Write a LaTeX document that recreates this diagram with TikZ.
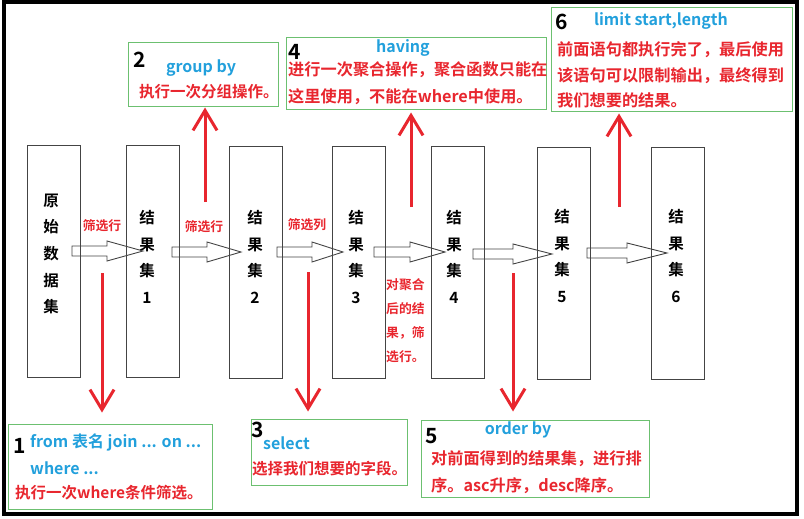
\documentclass[tikz,border=0pt]{standalone}
\usepackage{fontspec}
\setmainfont{Noto Sans CJK SC}[BoldFont={Noto Sans CJK SC Bold}]
\usetikzlibrary{arrows.meta}
\definecolor{tred}{HTML}{E8262E}
\definecolor{tblue}{HTML}{22A0DC}
\definecolor{tgreen}{HTML}{6CC070}
\definecolor{tgray}{HTML}{444444}
\newcommand\blockarrow[4]{%
  \draw[barrow] (#1,#4-5) -- (#2,#4-5) -- (#2,#4-10) -- (#3,#4) -- (#2,#4+10) -- (#2,#4+5) -- (#1,#4+5) -- cycle;}
\begin{document}
\begin{tikzpicture}[x=1pt,y=-1pt,
  setbox/.style={draw=tgray,line width=1pt,minimum width=53pt,minimum height=232pt,inner sep=0pt},
  settext/.style={align=center,inner sep=0pt,font=\fontsize{15.5}{26.7}\selectfont\bfseries},
  gbox/.style={draw=tgreen,line width=1pt,inner sep=0pt},
  num/.style={inner sep=0pt,font=\fontsize{21}{21}\selectfont\bfseries},
  bluet/.style={inner sep=0pt,text=tblue,font=\fontsize{16}{16}\selectfont\bfseries},
  redt/.style={inner sep=0pt,text=tred,anchor=west,font=\fontsize{15.5}{16}\selectfont\bfseries},
  redtl/.style={redt,font=\fontsize{16.2}{16}\selectfont\bfseries},
  lbl/.style={inner sep=0pt,text=tred,font=\fontsize{12.8}{24}\selectfont\bfseries},
  barrow/.style={draw=tgray,line width=0.9pt,line join=miter},
  redarrow/.style={draw=tred,line width=3pt,-{Straight Barb[length=20pt,width=24pt,line width=3pt]}}
]
\useasboundingbox (0,0) rectangle (804,519);
\draw[line width=3.5pt,black] (4,2) rectangle (797,514);

% result-set boxes
\node[setbox] (b0) at (54,261) {};
\node[setbox] (b1) at (152.5,261.5) {};
\node[setbox] (b2) at (256,262) {};
\node[setbox] (b3) at (359,262) {};
\node[setbox] (b4) at (457.5,262) {};
\node[setbox] (b5) at (563.5,263.5) {};
\node[setbox] (b6) at (677.5,263.5) {};

\node[settext] (t0) at (51,254) {原\\始\\数\\据\\集};
\node[settext] (t1) at (147,257) {结\\果\\集\\1};
\node[settext] (t2) at (255,257) {结\\果\\集\\2};
\node[settext] (t3) at (356,257) {结\\果\\集\\3};
\node[settext] (t4) at (454,257) {结\\果\\集\\4};
\node[settext] (t5) at (562,256) {结\\果\\集\\5};
\node[settext] (t6) at (676,256) {结\\果\\集\\6};

% block arrows
\blockarrow{72}{107}{143}{251}
\blockarrow{172}{207}{241}{252}
\blockarrow{277}{312}{343}{252}
\blockarrow{374}{410}{445}{252}
\blockarrow{473}{513}{552}{254}
\blockarrow{587}{627}{667}{253}

% arrow labels
\node[lbl] (l1) at (102,226) {筛选行};
\node[lbl] (l2) at (204,227) {筛选行};
\node[lbl] (l3) at (307,225) {筛选列};
\node[lbl,align=left,anchor=west] (l4) at (386,321) {对聚合\\后的结\\果，筛\\选行。};

% green boxes
\node[gbox,minimum width=150pt,minimum height=64pt] (g2) at (203,75) {};
\node[gbox,minimum width=260pt,minimum height=72pt] (g4) at (416,74) {};
\node[gbox,minimum width=241pt,minimum height=104pt] (g6) at (671.5,60) {};
\node[gbox,minimum width=204pt,minimum height=85pt] (g1) at (110,466.5) {};
\node[gbox,minimum width=156pt,minimum height=66pt] (g3) at (329,452) {};
\node[gbox,minimum width=228pt,minimum height=77pt] (g5) at (535,458.5) {};

\node[num] (n2) at (140,60) {2};
\node[bluet] (k2) at (201,68) {group by};
\node[redt] (d2) at (139,92) {执行一次分组操作。};

\node[num] (n4) at (295,52) {4};
\node[bluet] (k4) at (403,48) {having};
\node[redtl] (d4a) at (288,70) {进行一次聚合操作，聚合函数只能在};
\node[redtl] (d4b) at (288,97) {这里使用，不能在where中使用。};

\node[num] (n6) at (562,22) {6};
\node[bluet] (k6) at (661,21) {limit start,length};
\node[redtl] (d6a) at (557,50) {前面语句都执行完了，最后使用};
\node[redtl] (d6b) at (557,76) {该语句可以限制输出，最终得到};
\node[redtl] (d6c) at (557,100) {我们想要的结果。};

\node[num] (n1) at (20,446) {1};
\node[bluet,anchor=west] (k1a) at (30,442) {from 表名 join ... on ...};
\node[bluet,anchor=west] (k1b) at (30,468) {where ...};
\node[redt] (d1) at (15,493) {执行一次where条件筛选。};

\node[num] (n3) at (258,430) {3};
\node[bluet,anchor=west] (k3) at (263,443) {select};
\node[redt] (d3) at (252,469) {选择我们想要的字段。};

\node[num] (n5) at (432,436) {5};
\node[bluet] (k5) at (518,430) {order by};
\node[redtl] (d5a) at (431,459) {对前面得到的结果集，进行排};
\node[redtl] (d5b) at (431,486) {序。asc升序，desc降序。};

% red arrows
\coordinate (r1) at (102,273);
\coordinate (r2) at (205,202);
\coordinate (r3) at (308,272);
\coordinate (r4) at (411,207);
\coordinate (r5) at (513,273);
\coordinate (r6) at (619,207);
\draw[redarrow] (r1) -- ([yshift=11pt]r1 |- g1.north);
\draw[redarrow] (r2) -- ([yshift=-0pt]r2 |- g2.south);
\draw[redarrow] (r3) -- ([yshift=7pt]r3 |- g3.north);
\draw[redarrow] (r4) -- ([yshift=-2pt]r4 |- g4.south);
\draw[redarrow] (r5) -- ([yshift=8pt]r5 |- g5.north);
\draw[redarrow] (r6) -- ([yshift=-1pt]r6 |- g6.south);
\end{tikzpicture}
\end{document}
